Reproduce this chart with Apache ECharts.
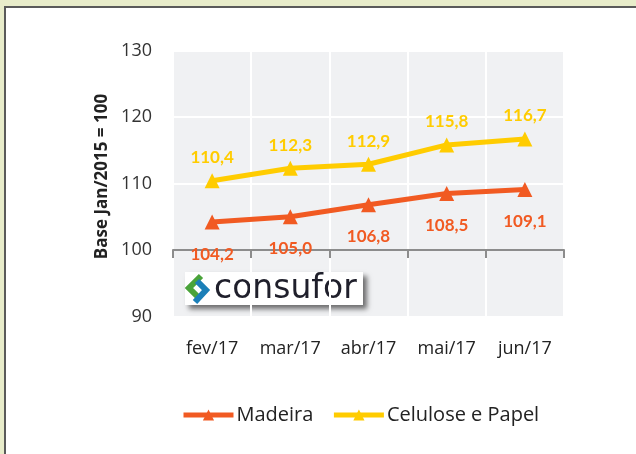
<!DOCTYPE html>
<html><head><meta charset="utf-8">
<script src="https://cdn.jsdelivr.net/npm/echarts@6/dist/echarts.min.js"></script>
<style>
html,body{margin:0;padding:0;width:636px;height:454px;overflow:hidden;background:#e8ecca;}
#frame{position:absolute;left:4px;top:6px;width:632px;height:448px;background:#fff;border-left:2px solid #5a5a5a;border-top:2px solid #5a5a5a;box-sizing:border-box;}
#chart{position:absolute;left:0;top:0;width:636px;height:454px;}
</style></head>
<body>
<div id="frame"></div>
<div id="chart"></div>
<script>
const categories = ['fev/17','mar/17','abr/17','mai/17','jun/17'];
const madeira = [104.2, 105.0, 106.8, 108.5, 109.1];
const celulose = [110.4, 112.3, 112.9, 115.8, 116.7];
const yTicks = [90, 100, 110, 120, 130];
const seriesNames = ['Madeira', 'Celulose e Papel'];
const baseLine = 100;

const FONT = "'Open Sans', 'Noto Sans', sans-serif";
const chart = echarts.init(document.getElementById('chart'));
const fmt = p => p.value.toFixed(1).replace('.', ',');

const gridLeft = 173, gridTop = 50.5, gridW = 391, gridH = 266;
const yMin = yTicks[0], yMax = yTicks[yTicks.length-1];
const baseTop = gridTop + gridH * (yMax - baseLine) / (yMax - yMin);

chart.setOption({
  backgroundColor: 'transparent',
  animation: false,
  grid: [
    {left: gridLeft, top: gridTop, width: gridW, height: gridH, show: true, backgroundColor: '#f0f1f3', borderWidth: 0},
    {left: gridLeft, top: baseTop, width: gridW, height: gridTop + gridH - baseTop, show: false}
  ],
  xAxis: [
    {type: 'category', data: categories, gridIndex: 0, boundaryGap: true,
     axisLine: {show: false}, axisTick: {show: false},
     splitLine: {show: true, interval: 0, lineStyle: {color: '#ffffff', width: 2}},
     axisLabel: {color: '#222', fontSize: 18, fontFamily: FONT, margin: 23, interval: 0, hideOverlap: false}},
    {type: 'category', data: categories, gridIndex: 1, position: 'top', boundaryGap: true, z: 0,
     axisLine: {show: true, onZero: false, lineStyle: {color: '#8c8c8c', width: 2}},
     axisTick: {show: true, inside: true, length: 8, interval: 0, lineStyle: {color: '#8c8c8c', width: 2}},
     axisLabel: {show: false}, splitLine: {show: false}}
  ],
  yAxis: [
    {type: 'value', gridIndex: 0, min: yMin, max: yMax, interval: 10,
     axisLine: {show: false}, axisTick: {show: false},
     splitLine: {show: true, lineStyle: {color: '#ffffff', width: 2}},
     axisLabel: {color: '#333', fontSize: 18, fontFamily: FONT, margin: 21},
     name: 'Base Jan/2015 = 100', nameLocation: 'middle', nameGap: 56, nameRotate: 90,
     nameTextStyle: {color: '#222', fontSize: 17, fontWeight: 'bold', fontFamily: FONT, padding: [0,0,0,14]}},
    {type: 'value', gridIndex: 1, show: false, min: 0, max: 1}
  ],
  legend: {
    left: 176, top: 400, itemWidth: 50, itemHeight: 14, itemGap: 18,
    textStyle: {color: '#222', fontSize: 20, fontFamily: FONT, padding: [0,0,0,-2]},
    lineStyle: {width: 5},
    data: seriesNames
  },
  series: [
    {name: seriesNames[0], type: 'line', data: madeira, xAxisIndex: 0, yAxisIndex: 0, z: 5,
     color: '#f15a22', symbol: 'triangle', symbolSize: 15, lineStyle: {width: 5},
     label: {show: true, position: 'bottom', distance: 16, formatter: fmt, color: '#f15a22', fontSize: 17, fontWeight: 'bold', fontFamily: "Lato, sans-serif"}},
    {name: seriesNames[1], type: 'line', data: celulose, xAxisIndex: 0, yAxisIndex: 0, z: 5,
     color: '#ffcc00', symbol: 'triangle', symbolSize: 15, lineStyle: {width: 5},
     label: {show: true, position: 'top', distance: 7, formatter: fmt, color: '#ffcc00', fontSize: 17, fontWeight: 'bold', fontFamily: "Lato, sans-serif"}}
  ],
  graphic: [
    {type: 'group', left: 185, top: 272, z: 10, children: [
      {type: 'rect', shape: {x: 0, y: 0, width: 178, height: 33},
       style: {fill: '#ffffff', shadowBlur: 5, shadowOffsetX: 4, shadowOffsetY: 4, shadowColor: 'rgba(0,0,0,0.55)'}},
      {type: 'polyline', shape: {points: [[16,4],[4,16],[13,25]]},
       style: {stroke: '#4aa33a', lineWidth: 6, fill: null, lineCap: 'butt', lineJoin: 'miter'}},
      {type: 'polyline', shape: {points: [[12,9],[21,18],[10,30]]},
       style: {stroke: '#1b7fb8', lineWidth: 6, fill: null, lineCap: 'butt', lineJoin: 'miter'}},
      {type: 'text', x: 29, y: 17,
       style: {text: 'consufor', fill: '#1f1f2b', font: "33px 'DejaVu Sans', sans-serif", verticalAlign: 'middle', textAlign: 'left'}}
    ]}
  ]
});
</script>
</body></html>
